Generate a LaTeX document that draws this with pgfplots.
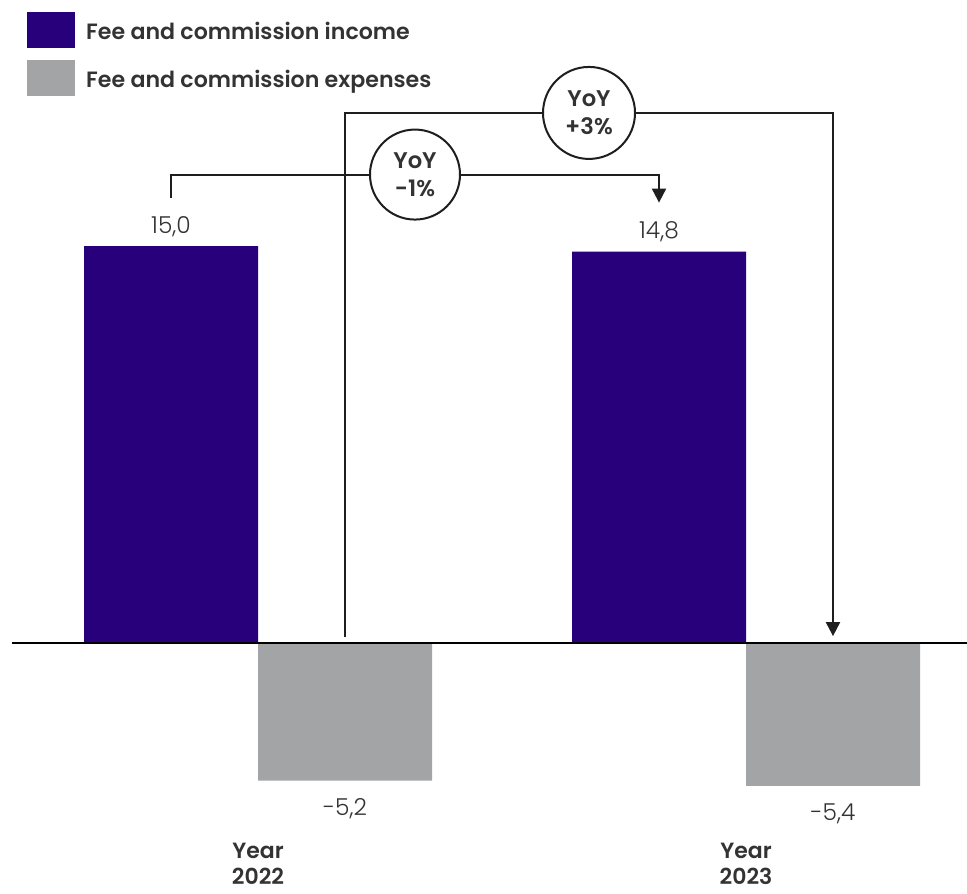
\documentclass[border=0pt]{standalone}
\usepackage{fontspec}
\setmainfont{Poppins}[BoldFont={Poppins SemiBold}]
\newfontfamily\lightfont{Poppins Light}
\usepackage{pgfplots}
\pgfplotsset{compat=1.18}
\usetikzlibrary{arrows.meta}

\definecolor{feeinc}{HTML}{29007B}
\definecolor{feeexp}{HTML}{A3A4A6}
\definecolor{ink}{HTML}{333333}
\definecolor{wire}{HTML}{1E1E1E}

% square swatches for the legend
\pgfplotsset{sq legend/.style={legend image code/.code={\fill[##1] (0pt,-12.5pt) rectangle (36pt,14.5pt);}}}

\begin{document}
\begin{tikzpicture}
\begin{axis}[
  scale only axis, width=725.25pt, height=626.25pt,
  xmin=-0.52869, xmax=1.45287, ymin=-7.259, ymax=24.31,
  clip=false,
  axis line style={draw=none}, tick style={draw=none},
  ytick=\empty,
  xtick={0,1},
  xticklabels={{Year\\2022},{Year\\2023}},
  xticklabel style={align=center, anchor=north, inner sep=0pt, yshift=-6pt,
    font=\fontsize{16.5}{19.5}\selectfont\bfseries, text=ink},
  legend style={at={(0.0279,0.9856)}, anchor=north west, draw=none, fill=none,
    inner sep=0pt, row sep=9pt, column sep=8.25pt,
    font=\fontsize{16.6}{18}\selectfont\bfseries, text=ink,
    nodes={inner sep=0pt}},
  legend cell align=left,
  nodes near coords={\pgfmathprintnumber[fixed,fixed zerofill,precision=1,use comma,assume math mode=true]{\pgfplotspointmeta}},
]
\addplot[ybar, fill=feeinc, draw=none, bar width=130.5pt, bar shift=-65.25pt, sq legend,
  nodes near coords style={anchor=south, inner sep=0pt, text depth=0pt,
    xshift=-65.25pt, yshift=9.7pt,
    font=\lightfont\fontsize{17.5}{20}\selectfont, text=ink}]
  coordinates {(0,15.0) (1,14.8)};
\addlegendentry{Fee and commission income}
\addplot[ybar, fill=feeexp, draw=none, bar width=130.5pt, bar shift=65.25pt, sq legend,
  nodes near coords style={anchor=north, inner sep=0pt,
    xshift=65.25pt, yshift=-13.5pt,
    font=\lightfont\fontsize{17.5}{20}\selectfont, text=ink}]
  coordinates {(0,-5.2) (1,-5.4)};
\addlegendentry{Fee and commission expenses}

% baseline at zero
\draw[black, line width=1.6pt] (axis cs:-0.5041,0) -- (axis cs:1.45287,0);

% year-on-year connectors
\draw[wire, line width=1.5pt, -{Triangle[width=10.5pt,length=10.5pt]}]
  (axis cs:-0.17828,16.82) -- (axis cs:-0.17828,17.71) -- (axis cs:0.82172,17.71) -- (axis cs:0.82172,16.65);
\draw[wire, line width=1.5pt, -{Triangle[width=10.5pt,length=10.5pt]}]
  (axis cs:0.17828,0.24) -- (axis cs:0.17828,20.04) -- (axis cs:1.17828,20.04) -- (axis cs:1.17828,0.26);

\node[circle, draw=wire, fill=white, line width=1.5pt, minimum size=67.5pt, inner sep=0pt,
  align=center, text=ink, font=\fontsize{17}{21}\selectfont\bfseries]
  at (axis cs:0.3217,17.71) {YoY\\-1\%};
\node[circle, draw=wire, fill=white, line width=1.5pt, minimum size=69pt, inner sep=0pt,
  align=center, text=ink, font=\fontsize{17}{21}\selectfont\bfseries]
  at (axis cs:0.6783,20.04) {YoY\\+3\%};
\end{axis}
\pgfresetboundingbox
\useasboundingbox (0pt,-43.5pt) rectangle (725.25pt,626.25pt);
\end{tikzpicture}
\end{document}
